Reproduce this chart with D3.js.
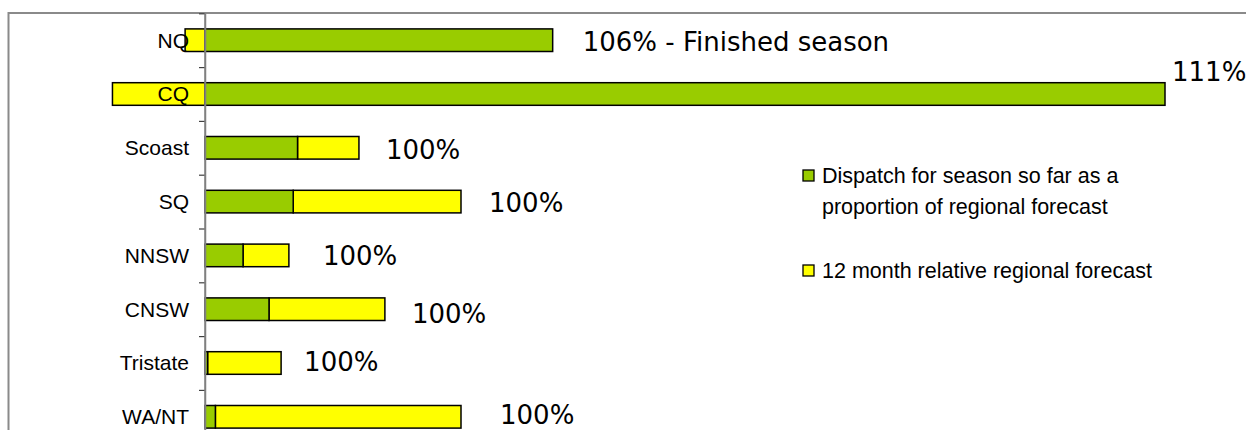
<!DOCTYPE html>
<html>
<head>
<meta charset="utf-8">
<script src="https://cdn.jsdelivr.net/npm/d3@7/dist/d3.min.js"></script>
<style>
  html, body { margin: 0; padding: 0; background: #fff; }
  svg { display: block; }
</style>
</head>
<body>
<svg id="chart" width="1246" height="430"></svg>
<script>
// ---------- data ----------
const categories = ["NQ", "CQ", "Scoast", "SQ", "NNSW", "CNSW", "Tristate", "WA/NT"];
// Dispatch for season so far (relative units)
const dispatch = [40.2, 111.0, 10.7, 10.2, 4.4, 7.4, 0.3, 1.2];
// Remaining part of 12 month relative regional forecast (negative when exceeded)
const remaining = [-2.3, -10.7, 7.1, 19.4, 5.3, 13.4, 8.5, 28.4];
const barLabels = ["106% - Finished season", "111%", "100%", "100%", "100%", "100%", "100%", "100%"];
const seriesNames = ["Dispatch for season so far as a|proportion of regional forecast", "12 month relative regional forecast"];

// ---------- layout ----------
const W = 1246, H = 430;
const axisX = 205, pxPerUnit = 960 / 111;
const plotTop = 13.3, step = 53.8;
const labelDx = [30, 7, 27, 28, 34, 27, 23, 39];
const labelDy = [10.5, -13, 11, 10, 9.5, 13.4, 7.5, 7.5];
const colors = { dispatch: "#99CC00", remaining: "#FFFF00" };

const svg = d3.select("#chart");

// outer frame (top and left edges visible)
svg.append("line").attr("x1", 8.5).attr("x2", W).attr("y1", 13).attr("y2", 13)
  .attr("stroke", "#8a8a8a").attr("stroke-width", 2);
svg.append("line").attr("x1", 8.5).attr("x2", 8.5).attr("y1", 12).attr("y2", H)
  .attr("stroke", "#8a8a8a").attr("stroke-width", 2);

const x = d3.scaleLinear().domain([-20, 120])
  .range([axisX - 20 * pxPerUnit, axisX + 120 * pxPerUnit]);
const y = d3.scaleBand().domain(categories)
  .range([plotTop, plotTop + step * categories.length])
  .paddingInner(0.58).paddingOuter(0.29);

const rows = categories.map((c, i) => ({ cat: c, dispatch: dispatch[i], remaining: remaining[i] }));
const stack = d3.stack().keys(["dispatch", "remaining"]).offset(d3.stackOffsetDiverging);
const layers = stack(rows);

// draw remaining (yellow) first, then dispatch (green)
const order = [layers[1], layers[0]];
order.forEach(layer => {
  svg.append("g").selectAll("rect").data(layer).join("rect")
    .attr("x", d => x(Math.min(d[0], d[1])))
    .attr("y", d => y(d.data.cat))
    .attr("width", d => Math.abs(x(d[1]) - x(d[0])))
    .attr("height", y.bandwidth())
    .attr("fill", colors[layer.key])
    .attr("stroke", "#000").attr("stroke-width", 1.5);
});

// category axis
const yIdx = d3.scaleLinear().domain([0, categories.length]).range([plotTop, plotTop + step * categories.length]);
const tickAxis = d3.axisLeft(yIdx).tickValues(d3.range(0, categories.length + 1)).tickFormat("").tickSize(6).tickSizeOuter(0);
const gt = svg.append("g").attr("transform", `translate(${axisX},0)`).call(tickAxis);
gt.select(".domain").attr("stroke", "#808080").attr("stroke-width", 1.5);
gt.selectAll(".tick line").attr("stroke", "#404040").attr("stroke-width", 1.2);

const catAxis = d3.axisLeft(y).tickSize(0).tickPadding(16);
const gc = svg.append("g").attr("transform", `translate(${axisX},0)`).call(catAxis);
gc.select(".domain").remove();
gc.selectAll("text").attr("font-family", "'Liberation Sans', Arial, sans-serif")
  .attr("font-size", 21).attr("fill", "#000").attr("dy", "0.35em");

// redraw axis line over bars
svg.append("line").attr("x1", axisX).attr("x2", axisX).attr("y1", plotTop).attr("y2", H)
  .attr("stroke", "#808080").attr("stroke-width", 1.5);

// bar value labels
svg.append("g").selectAll("text").data(rows).join("text")
  .attr("x", (d, i) => x(Math.max(0, d.dispatch + Math.max(0, d.remaining), d.dispatch)) + labelDx[i])
  .attr("y", (d, i) => y(d.cat) + y.bandwidth() / 2 + labelDy[i])
  .attr("font-family", "'DejaVu Sans', Verdana, sans-serif")
  .attr("font-size", 26).attr("fill", "#000")
  .text((d, i) => barLabels[i]);

// legend
const legend = svg.append("g");
const legendItems = [
  { key: "dispatch", name: seriesNames[0], y: 176 },
  { key: "remaining", name: seriesNames[1], y: 271 }
];
legendItems.forEach(it => {
  legend.append("rect").attr("x", 803).attr("y", it.y - 6).attr("width", 11).attr("height", 11)
    .attr("fill", colors[it.key]).attr("stroke", "#000").attr("stroke-width", 1.3);
  const t = legend.append("text").attr("x", 822).attr("y", it.y + 7)
    .attr("font-family", "'Liberation Sans', Arial, sans-serif").attr("font-size", 21.5).attr("fill", "#000");
  it.name.split("|").forEach((ln, j) => {
    t.append("tspan").attr("x", 822).attr("dy", j === 0 ? 0 : 31).text(ln);
  });
});
</script>
</body>
</html>
